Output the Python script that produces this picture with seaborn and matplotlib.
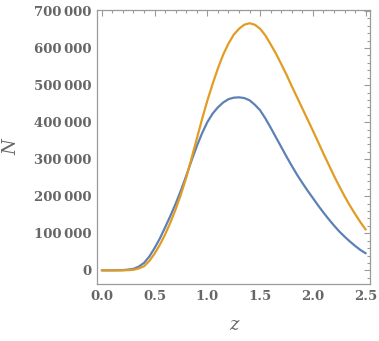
import matplotlib
matplotlib.use("Agg")
import matplotlib.pyplot as plt
import seaborn as sns
import pandas as pd
from matplotlib.ticker import MultipleLocator

# redshift grid and the two N(z) curves
z_values = [0.0, 0.05, 0.1, 0.15, 0.2, 0.25, 0.3, 0.35, 0.4, 0.45, 0.5, 0.55,
            0.6, 0.65, 0.7, 0.75, 0.8, 0.85, 0.9, 0.95, 1.0, 1.05, 1.1, 1.15,
            1.2, 1.25, 1.3, 1.35, 1.4, 1.45, 1.5, 1.55, 1.6, 1.65, 1.7, 1.75,
            1.8, 1.85, 1.9, 1.95, 2.0, 2.05, 2.1, 2.15, 2.2, 2.25, 2.3, 2.35,
            2.4, 2.45, 2.5]
blue_n = [0, 0, 100, 300, 600, 2000, 4000, 10000, 20000, 37000, 60000, 86000,
          116000, 147000, 180000, 216000, 255000, 296000, 335000, 370000,
          400000, 423000, 440000, 453000, 462000, 466000, 467000, 465000,
          459000, 447000, 432000, 410000, 385000, 359000, 333000, 307000,
          282000, 258000, 236000, 215000, 195000, 175000, 156000, 138000,
          121000, 105000, 91000, 78000, 66000, 55000, 46000]
orange_n = [0, 0, 0, 0, 100, 500, 1500, 5000, 11000, 25000, 45000, 69000,
            97000, 129000, 165000, 205000, 250000, 302000, 355000, 408000,
            458000, 503000, 545000, 582000, 612000, 636000, 652000, 663000,
            667000, 663000, 652000, 634000, 610000, 585000, 557000, 528000,
            497000, 467000, 437000, 407000, 377000, 346000, 315000, 285000,
            255000, 227000, 200000, 175000, 152000, 130000, 110000]

x_ticks = [0.0, 0.5, 1.0, 1.5, 2.0, 2.5]
x_tick_labels = ["0.0", "0.5", "1.0", "1.5", "2.0", "2.5"]
y_ticks = [0, 100000, 200000, 300000, 400000, 500000, 600000, 700000]
y_tick_labels = ["0", "100\u2009000", "200\u2009000", "300\u2009000", "400\u2009000",
                 "500\u2009000", "600\u2009000", "700\u2009000"]

series_names = ["blue", "orange"]
palette = {"blue": "#5E81B5", "orange": "#E19C24"}

df = pd.concat([
    pd.DataFrame({"z": z_values, "N": blue_n, "series": "blue"}),
    pd.DataFrame({"z": z_values, "N": orange_n, "series": "orange"}),
])

sns.set_theme(style="white")
plt.rcParams["font.family"] = ["DejaVu Serif"]

frame_col = "#9a9a9a"
text_col = "#666666"

fig = plt.figure(figsize=(3.79, 3.41), dpi=100)
ax = fig.add_axes([0.256, 0.167, 0.72, 0.804])

sns.lineplot(data=df, x="z", y="N", hue="series", hue_order=series_names,
             palette=palette, linewidth=1.6, legend=False, ax=ax)

ax.set_xlim(-0.045, 2.54)
ax.set_ylim(-37000, 703000)

ax.set_xticks(x_ticks)
ax.set_xticklabels(x_tick_labels)
ax.set_yticks(y_ticks)
ax.set_yticklabels(y_tick_labels)
ax.xaxis.set_minor_locator(MultipleLocator(0.1))
ax.yaxis.set_minor_locator(MultipleLocator(20000))

ax.tick_params(which="both", direction="in", top=True, right=True,
               color=frame_col, width=0.8)
ax.tick_params(which="major", length=4.5)
ax.tick_params(which="minor", length=2.5)
ax.tick_params(axis="both", which="major", labelsize=9.5, labelcolor=text_col, pad=4)
for lab in ax.get_xticklabels() + ax.get_yticklabels():
    lab.set_fontweight("bold")

for sp in ax.spines.values():
    sp.set_color(frame_col)
    sp.set_linewidth(0.9)

ax.set_xlabel("z", fontsize=13, style="italic", color=text_col, labelpad=10)
ax.set_ylabel("N", fontsize=13, style="italic", color=text_col, labelpad=10)
ax.grid(False)

fig.savefig("out.png", dpi=100)
plt.close(fig)
